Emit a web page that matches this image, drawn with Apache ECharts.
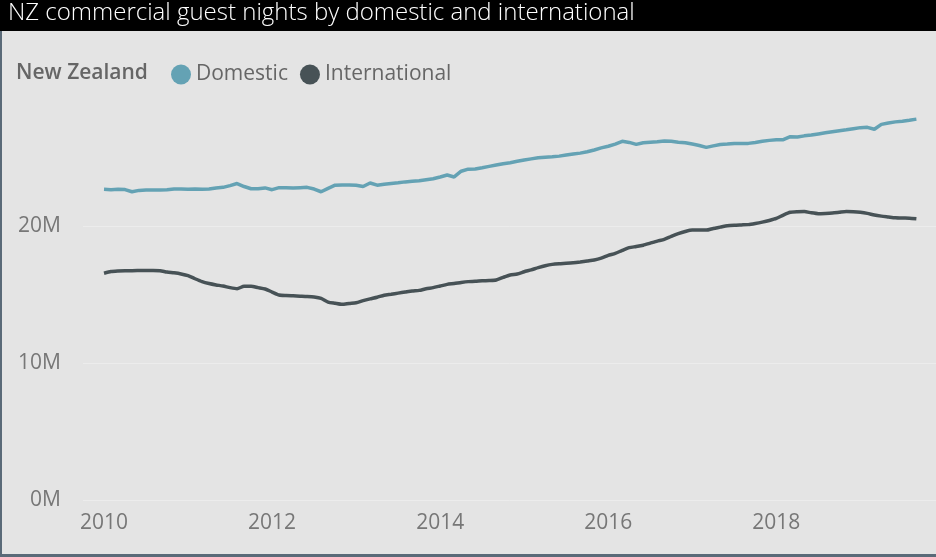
<!DOCTYPE html>
<html>
<head>
<meta charset="utf-8">
<script src="https://cdn.jsdelivr.net/npm/echarts@6/dist/echarts.min.js"></script>
<style>
html,body{margin:0;padding:0;background:#e4e4e4;}
#chart{width:936px;height:557px;}
</style>
</head>
<body>
<div id="chart"></div>
<script>
// Monthly rolling-annual guest nights, Jan 2010 .. Sep 2019 (millions)
const startYear = 2010;
const domestic = [
  22.68,22.65,22.68,22.66,22.50,22.60,22.62,22.62,22.62,22.64,22.70,22.70,
  22.68,22.70,22.68,22.70,22.78,22.82,22.95,23.10,22.88,22.72,22.72,22.78,
  22.65,22.80,22.80,22.78,22.80,22.82,22.70,22.50,22.75,22.98,23.00,23.00,
  22.98,22.88,23.14,22.98,23.05,23.10,23.15,23.22,23.27,23.30,23.38,23.45,
  23.58,23.72,23.58,24.00,24.15,24.16,24.25,24.35,24.45,24.55,24.62,24.72,
  24.82,24.90,24.98,25.02,25.05,25.10,25.18,25.25,25.32,25.42,25.55,25.70,
  25.82,25.98,26.18,26.10,25.96,26.08,26.12,26.15,26.20,26.18,26.12,26.08,
  25.98,25.88,25.74,25.85,25.95,25.98,26.02,26.02,26.03,26.10,26.18,26.25,
  26.30,26.30,26.52,26.50,26.58,26.64,26.72,26.80,26.88,26.96,27.02,27.10,
  27.18,27.20,27.06,27.42,27.52,27.60,27.65,27.72,27.80
];
const international = [
  16.55,16.68,16.72,16.74,16.74,16.75,16.76,16.76,16.74,16.64,16.58,16.50,
  16.38,16.15,15.94,15.80,15.70,15.62,15.50,15.42,15.60,15.60,15.50,15.40,
  15.18,14.96,14.92,14.90,14.88,14.86,14.82,14.72,14.45,14.36,14.28,14.35,
  14.40,14.55,14.68,14.80,14.95,15.02,15.10,15.18,15.26,15.30,15.42,15.50,
  15.62,15.74,15.80,15.88,15.94,15.96,16.00,16.02,16.06,16.25,16.42,16.50,
  16.66,16.80,16.96,17.10,17.20,17.25,17.28,17.32,17.38,17.45,17.52,17.65,
  17.85,18.00,18.22,18.42,18.50,18.60,18.75,18.90,19.03,19.25,19.45,19.60,
  19.70,19.70,19.70,19.82,19.92,20.02,20.06,20.08,20.10,20.18,20.28,20.40,
  20.55,20.80,21.00,21.04,21.05,20.96,20.90,20.92,20.95,21.00,21.05,21.04,
  21.00,20.92,20.80,20.72,20.66,20.60,20.58,20.57,20.53
];
const yearTicks = [2010, 2012, 2014, 2016, 2018];
const valueTicks = [0, 10e6, 20e6];

// x position of each month as a decimal year
const months = domestic.map((_, i) => startYear + i / 12);
const toPairs = arr => arr.map((v, i) => [months[i], v * 1e6]);

const chart = echarts.init(document.getElementById('chart'));
const axisFont = { fontFamily: 'Open Sans', fontSize: 21, color: '#777777' };

chart.setOption({
  backgroundColor: '#e4e4e4',
  animation: false,
  graphic: [
    { type: 'rect', left: 0, top: 0, shape: { width: 936, height: 31 }, style: { fill: '#000000' }, z: 10 },
    { type: 'text', left: 8, top: 1, style: { text: 'NZ commercial guest nights by domestic and international', fill: '#ffffff', font: '300 24px "Open Sans"' }, z: 11 },
    { type: 'text', left: 16, top: 63, style: { text: 'New Zealand', fill: '#666666', font: '600 21px "Open Sans"' }, z: 11 },
    { type: 'rect', left: 0, top: 31, shape: { width: 2, height: 526 }, style: { fill: '#5a6a78' }, z: 10 },
    { type: 'rect', left: 0, top: 554, shape: { width: 936, height: 3 }, style: { fill: '#5a6a78' }, z: 10 }
  ],
  legend: {
    left: 166, top: 59,
    icon: 'circle', itemWidth: 20, itemHeight: 20, itemGap: 12,
    textStyle: { fontFamily: 'Open Sans', fontSize: 21, color: '#666666' },
    data: ['Domestic', 'International']
  },
  grid: { left: 83, right: 0, top: 89, bottom: 57, containLabel: false },
  xAxis: {
    type: 'value',
    min: 2009.75, max: 2019.9,
    axisLine: { show: false }, axisTick: { show: false, customValues: yearTicks },
    splitLine: { show: false },
    axisLabel: Object.assign({ customValues: yearTicks, margin: 13, formatter: v => String(v) }, axisFont)
  },
  yAxis: {
    type: 'value',
    min: 0, max: 30e6,
    axisLine: { show: false }, axisTick: { show: false, customValues: valueTicks },
    splitLine: { show: true, lineStyle: { color: '#ececec', width: 1 } },
    axisLabel: Object.assign({ customValues: valueTicks, margin: 22, formatter: v => (v / 1e6) + 'M' }, axisFont)
  },
  series: [
    { name: 'Domestic', type: 'line', data: toPairs(domestic), showSymbol: false, smooth: false,
      itemStyle: { color: '#64a2b4' }, lineStyle: { color: '#64a2b4', width: 3.5 } },
    { name: 'International', type: 'line', data: toPairs(international), showSymbol: false, smooth: 0.2,
      itemStyle: { color: '#475256' }, lineStyle: { color: '#475256', width: 3.5 } }
  ]
});
</script>
</body>
</html>
